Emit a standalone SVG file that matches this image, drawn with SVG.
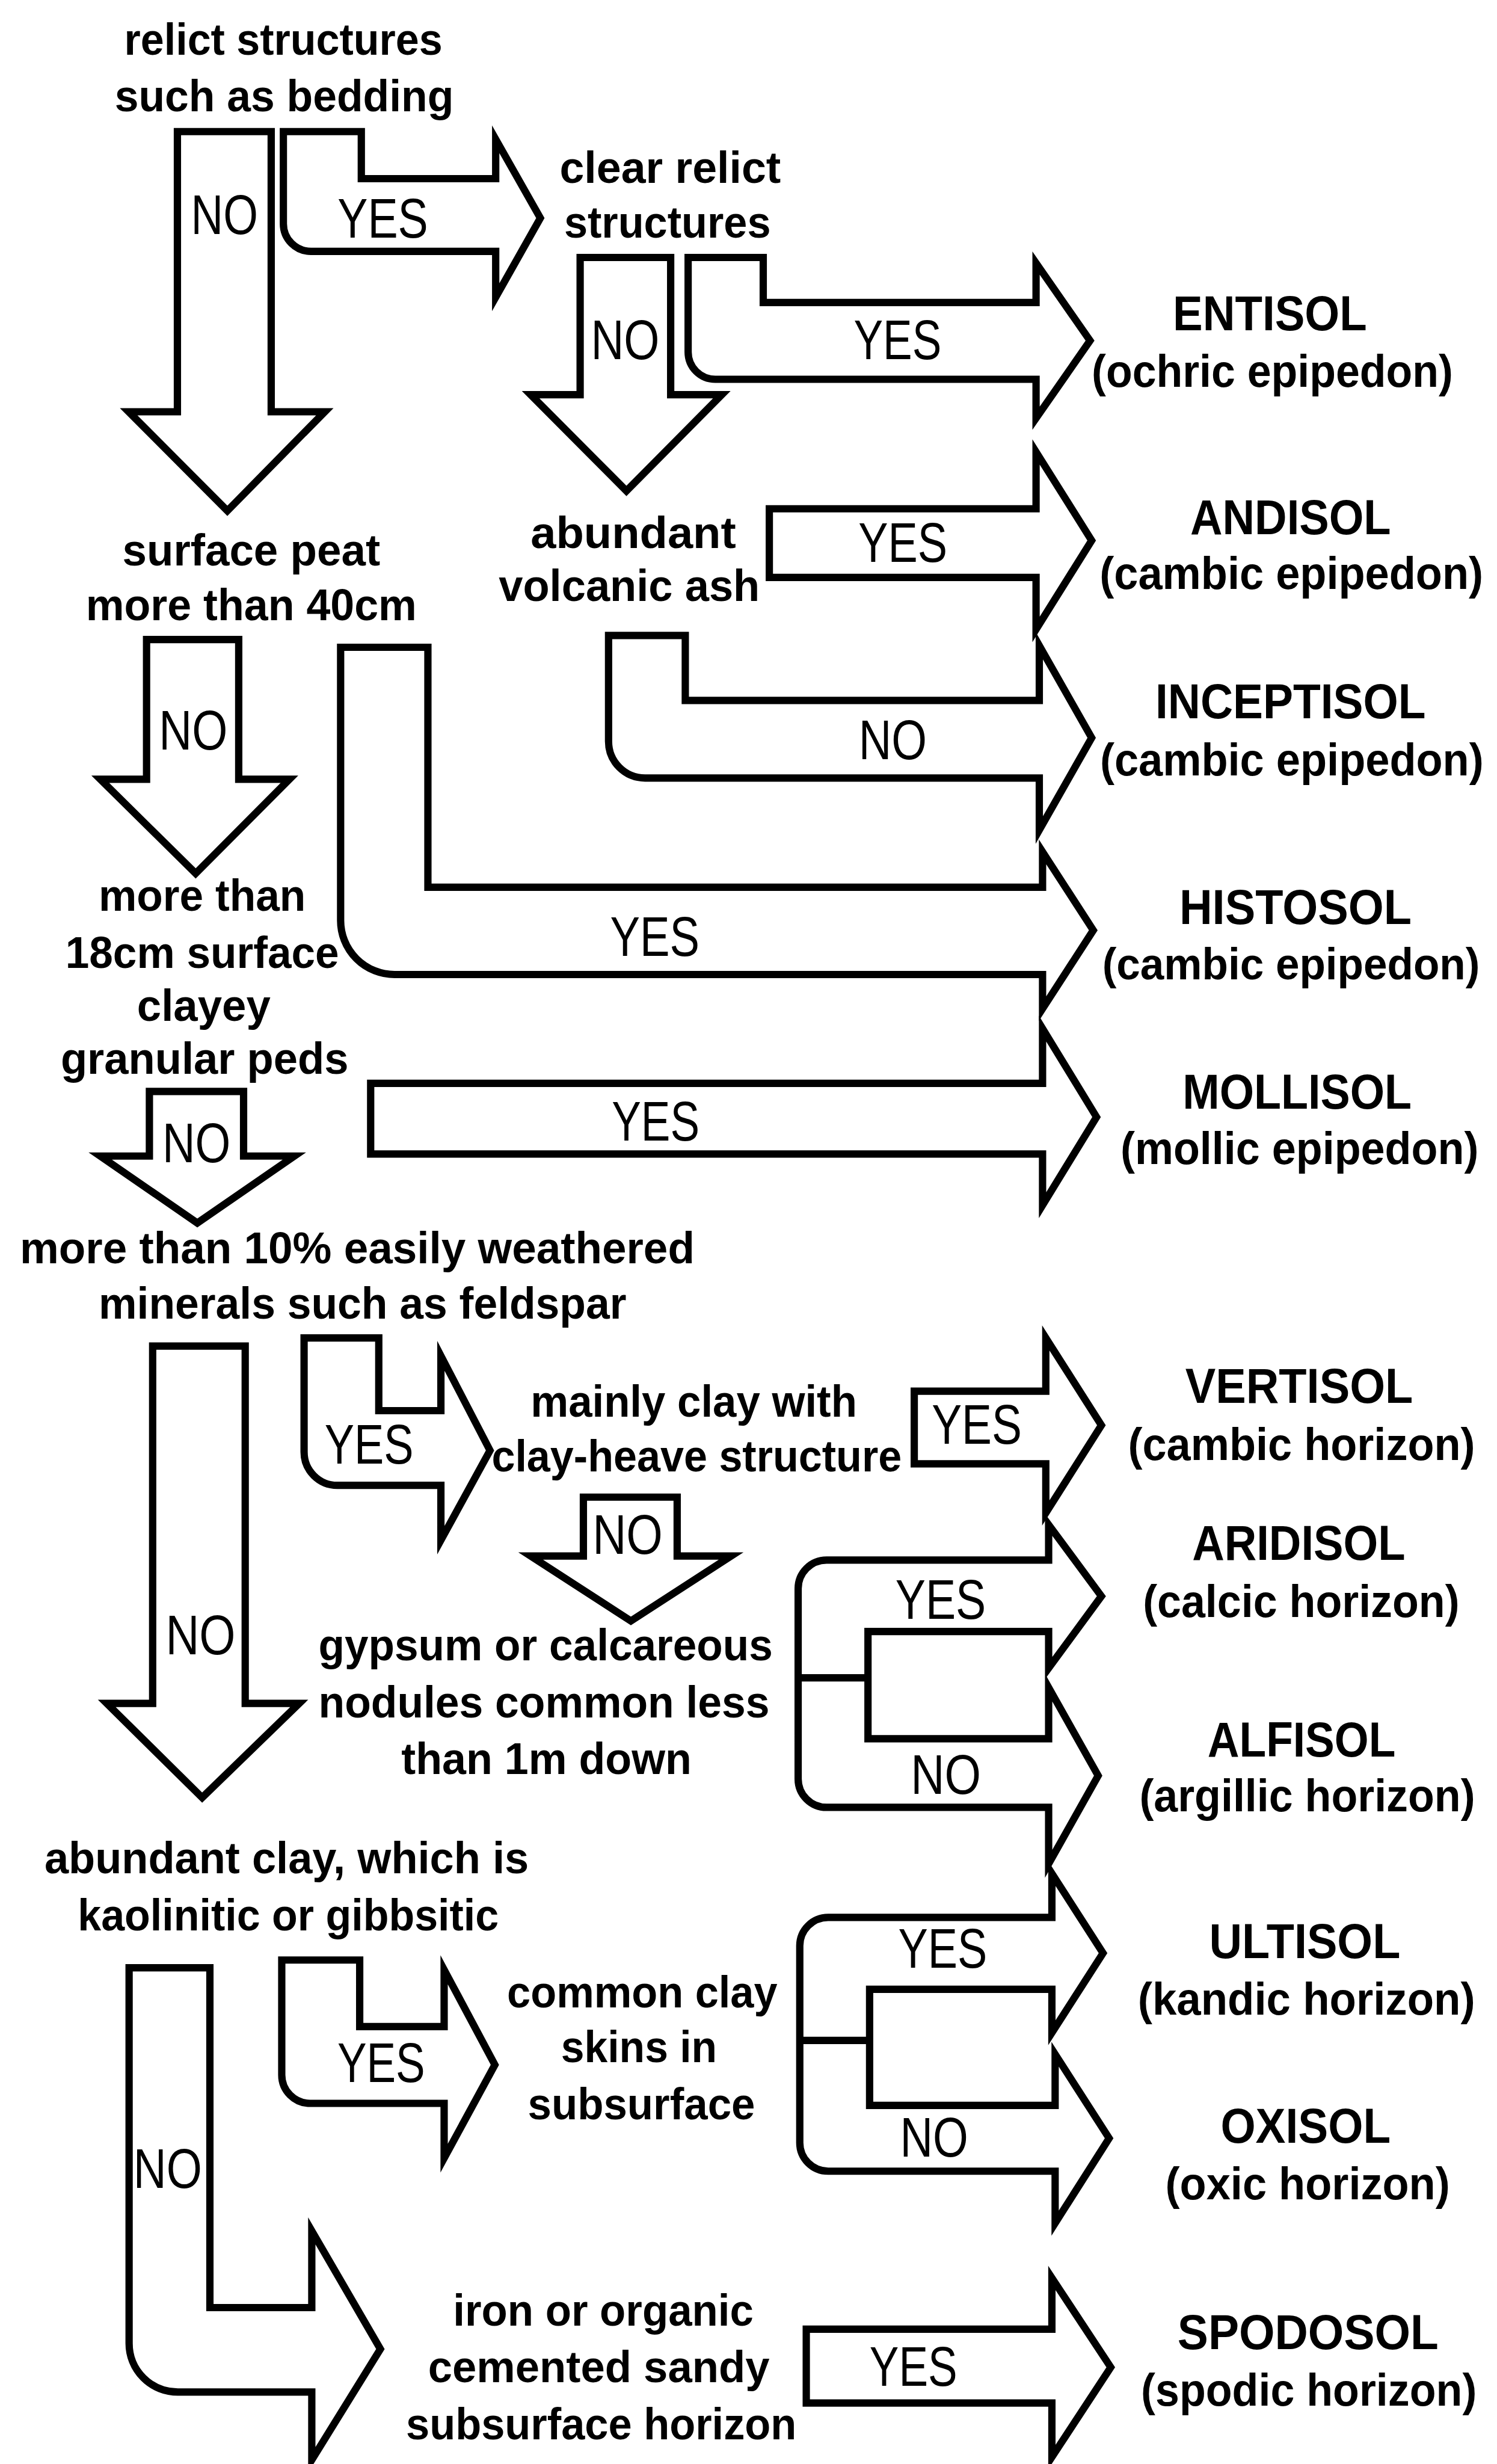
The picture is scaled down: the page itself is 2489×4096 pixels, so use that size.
<svg xmlns="http://www.w3.org/2000/svg" width="2489" height="4096" viewBox="0 0 2489 4096">
<style>
.a{fill:#fff;stroke:#000;stroke-width:18;stroke-linejoin:miter;stroke-miterlimit:10}
.l{fill:none;stroke:#000;stroke-width:18}
text{fill:#000;text-anchor:middle;font-family:"Liberation Sans",Arial,sans-serif}
.c{font-size:110px;font-weight:bold}
.yn{font-size:136px}
.s{font-size:120px;font-weight:bold}
.p{font-size:112px;font-weight:bold}
</style>
<rect width="2489" height="4096" fill="#fff"/>
<g transform="scale(0.675)">
<g id="connectors">
  <g id="a1"><path class="a" d="M437 324 L668 324 L668 1014 L800 1014 L560 1258 L317 1014 L437 1014 Z"/><text class="yn" x="553" y="576" textLength="165" lengthAdjust="spacingAndGlyphs">NO</text></g>
  <g id="a2"><path class="a" d="M698 324 L890 324 L890 440 L1221 440 L1221 343 L1331 537 L1221 732 L1221 619 L766 619 A68 68 0 0 1 698 551 Z"/><text class="yn" x="943" y="585" textLength="223" lengthAdjust="spacingAndGlyphs">YES</text></g>
  <g id="a3"><path class="a" d="M1429 634 L1652 634 L1652 972 L1778 972 L1543 1209 L1307 972 L1429 972 Z"/><text class="yn" x="1540" y="885" textLength="169" lengthAdjust="spacingAndGlyphs">NO</text></g>
  <g id="a4"><path class="a" d="M1695 634 L1880 634 L1880 745 L2552 745 L2552 648 L2685 839 L2552 1030 L2552 934 L1762 934 A67 67 0 0 1 1695 867 Z"/><text class="yn" x="2211" y="885" textLength="216" lengthAdjust="spacingAndGlyphs">YES</text></g>
  <g id="a5"><path class="a" d="M1895 1253 L2552 1253 L2552 1113 L2689 1331 L2552 1550 L2552 1422 L1895 1422 Z"/><text class="yn" x="2224" y="1384" textLength="219" lengthAdjust="spacingAndGlyphs">YES</text></g>
  <g id="a6"><path class="a" d="M1499 1565 L1688 1565 L1688 1725 L2560 1725 L2560 1590 L2689 1817 L2560 2044 L2560 1916 L1589 1916 A90 90 0 0 1 1499 1826 Z"/><text class="yn" x="2199" y="1870" textLength="168" lengthAdjust="spacingAndGlyphs">NO</text></g>
  <g id="a7"><path class="a" d="M839 1594 L1054 1594 L1054 2185 L2568 2185 L2568 2098 L2693 2291 L2568 2484 L2568 2400 L972 2400 A133 133 0 0 1 839 2267 Z"/><text class="yn" x="1613" y="2354" textLength="220" lengthAdjust="spacingAndGlyphs">YES</text></g>
  <g id="a8"><path class="a" d="M913 2668 L2568 2668 L2568 2533 L2701 2751 L2568 2968 L2568 2842 L913 2842 Z"/><text class="yn" x="1615" y="2809" textLength="216" lengthAdjust="spacingAndGlyphs">YES</text></g>
  <g id="a9"><path class="a" d="M361 1575 L588 1575 L588 1919 L713 1919 L482 2151 L247 1919 L361 1919 Z"/><text class="yn" x="476" y="1846" textLength="169" lengthAdjust="spacingAndGlyphs">NO</text></g>
  <g id="a10"><path class="a" d="M368 2688 L600 2688 L600 2847 L725 2847 L486 3012 L247 2847 L368 2847 Z"/><text class="yn" x="484" y="2862" textLength="168" lengthAdjust="spacingAndGlyphs">NO</text></g>
  <g id="a11"><path class="a" d="M376 3315 L604 3315 L604 4195 L737 4195 L498 4427 L263 4195 L376 4195 Z"/><text class="yn" x="494" y="4074" textLength="172" lengthAdjust="spacingAndGlyphs">NO</text></g>
  <g id="a12"><path class="a" d="M749 3295 L933 3295 L933 3474 L1086 3474 L1086 3339 L1207 3572 L1086 3793 L1086 3658 L831 3658 A82 82 0 0 1 749 3576 Z"/><text class="yn" x="909" y="3605" textLength="219" lengthAdjust="spacingAndGlyphs">YES</text></g>
  <g id="a13"><path class="a" d="M2252 3426 L2576 3426 L2576 3295 L2713 3510 L2576 3726 L2576 3605 L2252 3605 Z"/><text class="yn" x="2406" y="3556" textLength="222" lengthAdjust="spacingAndGlyphs">YES</text></g>
  <g id="a14"><path class="a" d="M1437 3687 L1668 3687 L1668 3832 L1801 3832 L1554 3992 L1307 3832 L1437 3832 Z"/><text class="yn" x="1546" y="3827" textLength="173" lengthAdjust="spacingAndGlyphs">NO</text></g>
  <g id="a15"><path class="a" d="M2036 3842 L2583 3842 L2583 3755 L2713 3931 L2583 4108 L2583 4018 L2138 4018 L2138 4282 L2583 4282 L2583 4156 L2705 4373 L2583 4590 L2583 4451 L2036 4451 A70 70 0 0 1 1966 4381 L1966 3912 A70 70 0 0 1 2036 3842 Z"/><path class="l" d="M1966 4132 L2138 4132"/><text class="yn" x="2317" y="3987" textLength="223" lengthAdjust="spacingAndGlyphs">YES</text><text class="yn" x="2330" y="4418" textLength="173" lengthAdjust="spacingAndGlyphs">NO</text></g>
  <g id="a16"><path class="a" d="M2040 4722 L2591 4722 L2591 4614 L2717 4810 L2591 5006 L2591 4899 L2142 4899 L2142 5185 L2599 5185 L2599 5059 L2732 5266 L2599 5475 L2599 5347 L2040 5347 A70 70 0 0 1 1970 5277 L1970 4792 A70 70 0 0 1 2040 4722 Z"/><path class="l" d="M1970 5025 L2142 5025"/><text class="yn" x="2322" y="4846" textLength="219" lengthAdjust="spacingAndGlyphs">YES</text><text class="yn" x="2301" y="5311" textLength="168" lengthAdjust="spacingAndGlyphs">NO</text></g>
  <g id="a17"><path class="a" d="M694 4827 L886 4827 L886 4991 L1094 4991 L1094 4851 L1219 5085 L1094 5315 L1094 5180 L764 5180 A70 70 0 0 1 694 5110 Z"/><text class="yn" x="939" y="5127" textLength="216" lengthAdjust="spacingAndGlyphs">YES</text></g>
  <g id="a18"><path class="a" d="M318 4846 L517 4846 L517 5683 L768 5683 L768 5494 L937 5785 L768 6058 L768 5891 L438 5891 A120 120 0 0 1 318 5771 Z"/><text class="yn" x="413" y="5388" textLength="169" lengthAdjust="spacingAndGlyphs">NO</text></g>
  <g id="a19"><path class="a" d="M1986 5736 L2591 5736 L2591 5610 L2736 5830 L2591 6051 L2591 5918 L1986 5918 Z"/><text class="yn" x="2250" y="5876" textLength="216" lengthAdjust="spacingAndGlyphs">YES</text></g>
</g>
<g id="q-relict"><text class="c" x="698" y="135" textLength="784" lengthAdjust="spacingAndGlyphs">relict structures</text><text class="c" x="700" y="274" textLength="835" lengthAdjust="spacingAndGlyphs">such as bedding</text></g>
<g id="q-clear"><text class="c" x="1651" y="450" textLength="545" lengthAdjust="spacingAndGlyphs">clear relict</text><text class="c" x="1644" y="585" textLength="509" lengthAdjust="spacingAndGlyphs">structures</text></g>
<g id="q-peat"><text class="c" x="619" y="1393" textLength="635" lengthAdjust="spacingAndGlyphs">surface peat</text><text class="c" x="619" y="1528" textLength="815" lengthAdjust="spacingAndGlyphs">more than 40cm</text></g>
<g id="q-ash"><text class="c" x="1560" y="1350" textLength="506" lengthAdjust="spacingAndGlyphs">abundant</text><text class="c" x="1550" y="1480" textLength="643" lengthAdjust="spacingAndGlyphs">volcanic ash</text></g>
<g id="q-peds"><text class="c" x="498" y="2243" textLength="510" lengthAdjust="spacingAndGlyphs">more than</text><text class="c" x="498" y="2383" textLength="674" lengthAdjust="spacingAndGlyphs">18cm surface</text><text class="c" x="502" y="2514" textLength="329" lengthAdjust="spacingAndGlyphs">clayey</text><text class="c" x="504" y="2644" textLength="709" lengthAdjust="spacingAndGlyphs">granular peds</text></g>
<g id="q-weathered"><text class="c" x="880" y="3111" textLength="1662" lengthAdjust="spacingAndGlyphs">more than 10% easily weathered</text><text class="c" x="893" y="3247" textLength="1300" lengthAdjust="spacingAndGlyphs">minerals such as feldspar</text></g>
<g id="q-clayheave"><text class="c" x="1709" y="3489" textLength="804" lengthAdjust="spacingAndGlyphs">mainly clay with</text><text class="c" x="1716" y="3624" textLength="1010" lengthAdjust="spacingAndGlyphs">clay-heave structure</text></g>
<g id="q-gypsum"><text class="c" x="1344" y="4089" textLength="1119" lengthAdjust="spacingAndGlyphs">gypsum or calcareous</text><text class="c" x="1340" y="4229" textLength="1111" lengthAdjust="spacingAndGlyphs">nodules common less</text><text class="c" x="1346" y="4369" textLength="715" lengthAdjust="spacingAndGlyphs">than 1m down</text></g>
<g id="q-kaolinitic"><text class="c" x="706" y="4614" textLength="1193" lengthAdjust="spacingAndGlyphs">abundant clay, which is</text><text class="c" x="710" y="4754" textLength="1037" lengthAdjust="spacingAndGlyphs">kaolinitic or gibbsitic</text></g>
<g id="q-skins"><text class="c" x="1582" y="4943" textLength="666" lengthAdjust="spacingAndGlyphs">common clay</text><text class="c" x="1574" y="5078" textLength="384" lengthAdjust="spacingAndGlyphs">skins in</text><text class="c" x="1580" y="5219" textLength="560" lengthAdjust="spacingAndGlyphs">subsurface</text></g>
<g id="q-iron"><text class="c" x="1486" y="5727" textLength="740" lengthAdjust="spacingAndGlyphs">iron or organic</text><text class="c" x="1475" y="5867" textLength="841" lengthAdjust="spacingAndGlyphs">cemented sandy</text><text class="c" x="1481" y="6007" textLength="962" lengthAdjust="spacingAndGlyphs">subsurface horizon</text></g>
<g id="entisol"><text class="s" x="3128" y="813" textLength="478" lengthAdjust="spacingAndGlyphs">ENTISOL</text><text class="p" x="3134" y="953" textLength="890" lengthAdjust="spacingAndGlyphs">(ochric epipedon)</text></g>
<g id="andisol"><text class="s" x="3179" y="1316" textLength="494" lengthAdjust="spacingAndGlyphs">ANDISOL</text><text class="p" x="3181" y="1451" textLength="945" lengthAdjust="spacingAndGlyphs">(cambic epipedon)</text></g>
<g id="inceptisol"><text class="s" x="3179" y="1769" textLength="666" lengthAdjust="spacingAndGlyphs">INCEPTISOL</text><text class="p" x="3182" y="1909" textLength="945" lengthAdjust="spacingAndGlyphs">(cambic epipedon)</text></g>
<g id="histosol"><text class="s" x="3191" y="2276" textLength="572" lengthAdjust="spacingAndGlyphs">HISTOSOL</text><text class="p" x="3180" y="2412" textLength="930" lengthAdjust="spacingAndGlyphs" style="font-size:110px">(cambic epipedon)</text></g>
<g id="mollisol"><text class="s" x="3195" y="2731" textLength="564" lengthAdjust="spacingAndGlyphs">MOLLISOL</text><text class="p" x="3201" y="2867" textLength="882" lengthAdjust="spacingAndGlyphs">(mollic epipedon)</text></g>
<g id="vertisol"><text class="s" x="3200" y="3455" textLength="561" lengthAdjust="spacingAndGlyphs">VERTISOL</text><text class="p" x="3206" y="3595" textLength="855" lengthAdjust="spacingAndGlyphs">(cambic horizon)</text></g>
<g id="aridisol"><text class="s" x="3199" y="3842" textLength="525" lengthAdjust="spacingAndGlyphs">ARIDISOL</text><text class="p" x="3205" y="3982" textLength="780" lengthAdjust="spacingAndGlyphs">(calcic horizon)</text></g>
<g id="alfisol"><text class="s" x="3206" y="4326" textLength="463" lengthAdjust="spacingAndGlyphs">ALFISOL</text><text class="p" x="3220" y="4461" textLength="827" lengthAdjust="spacingAndGlyphs">(argillic horizon)</text></g>
<g id="ultisol"><text class="s" x="3214" y="4822" textLength="471" lengthAdjust="spacingAndGlyphs">ULTISOL</text><text class="p" x="3218" y="4962" textLength="831" lengthAdjust="spacingAndGlyphs">(kandic horizon)</text></g>
<g id="oxisol"><text class="s" x="3216" y="5277" textLength="419" lengthAdjust="spacingAndGlyphs">OXISOL</text><text class="p" x="3221" y="5417" textLength="701" lengthAdjust="spacingAndGlyphs">(oxic horizon)</text></g>
<g id="spodosol"><text class="s" x="3222" y="5785" textLength="643" lengthAdjust="spacingAndGlyphs">SPODOSOL</text><text class="p" x="3224" y="5925" textLength="827" lengthAdjust="spacingAndGlyphs">(spodic horizon)</text></g>
</g>
</svg>
